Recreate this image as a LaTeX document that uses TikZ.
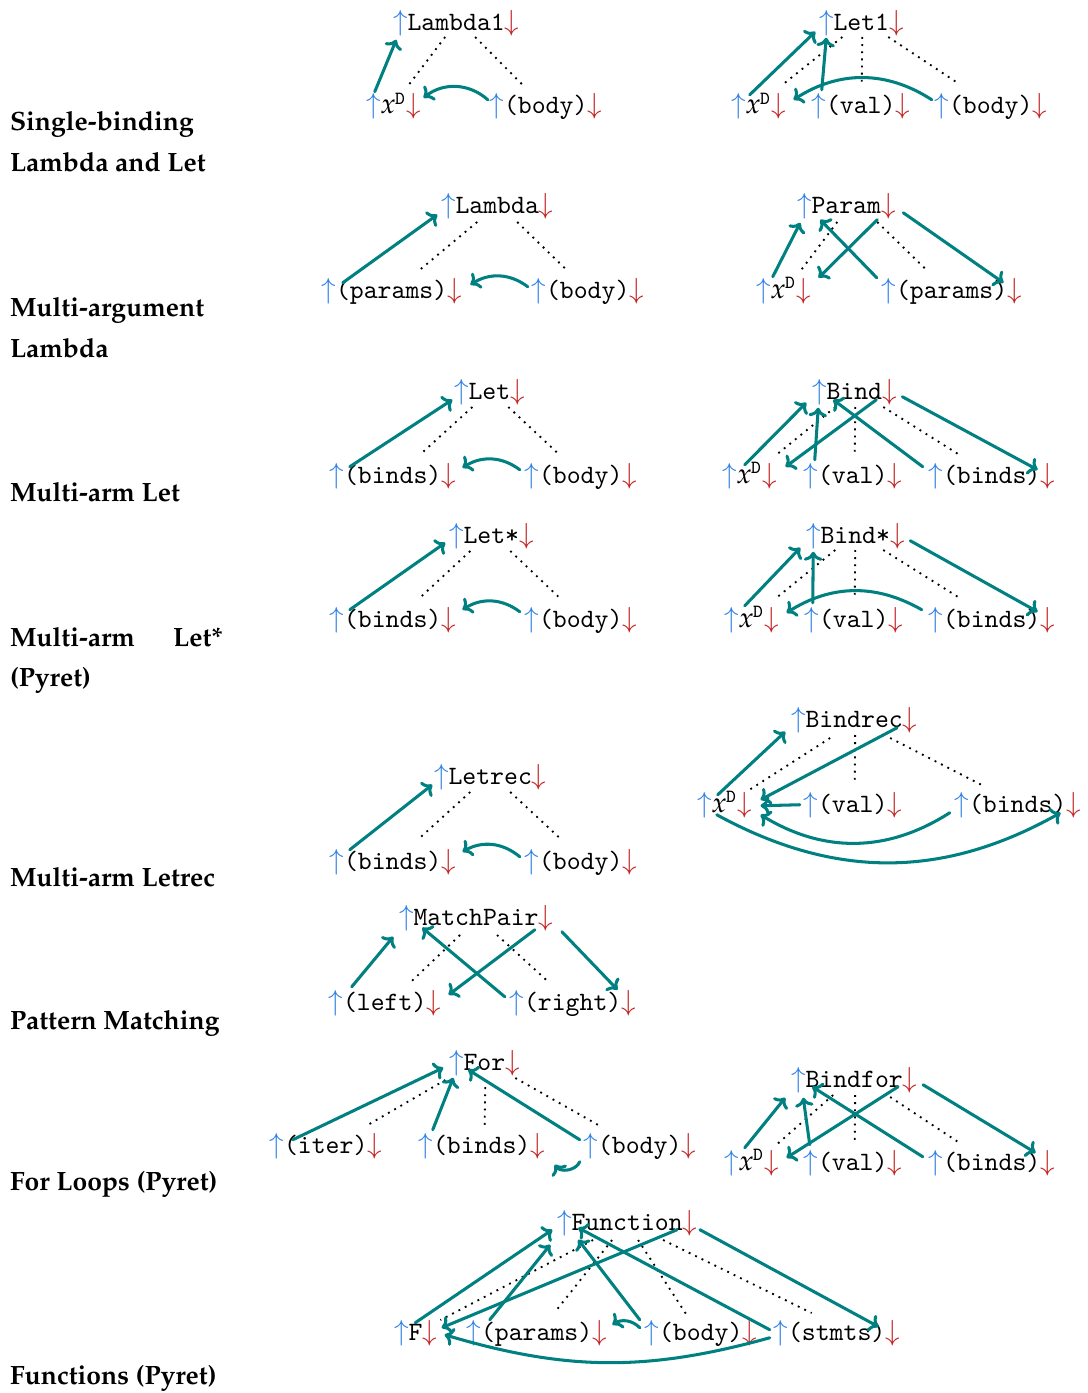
\documentclass[tikz,border=0pt]{standalone}
\usepackage[T1,TU]{fontenc}
\usetikzlibrary{calc,arrows.meta}
\definecolor{flowc}{RGB}{0,128,128}
\definecolor{upblue}{RGB}{50,130,230}
\definecolor{dnred}{RGB}{195,35,35}
\newcommand\palbf{\fontencoding{T1}\fontfamily{ppl}\fontseries{b}\fontshape{n}\fontsize{10}{15.5}\selectfont}
\newcommand\palit{\fontencoding{T1}\fontfamily{ppl}\fontseries{m}\fontshape{it}\fontsize{10.7}{12}\selectfont}
\newcommand\uarr{{\fontsize{10.95}{12}\selectfont\textcolor{upblue}{$\uparrow$}}}
\newcommand\darr{{\fontsize{10.95}{12}\selectfont\textcolor{dnred}{$\downarrow$}}}
\newcommand\xD{{\palit x}\textsuperscript{\ttfamily D}}
% one attribute group: up arrow, label, down arrow
\newcommand\grp[4]{%
  \node[txt,anchor=base west] (#1) at (#2,#3) {#4};
  \node[txt,anchor=base east] (#1-u) at (#1.base west) {\uarr};
  \node[txt,anchor=base west] (#1-d) at (#1.base east) {\darr};
}
\tikzset{
  txt/.style={inner sep=0pt,outer sep=0pt,font=\fontsize{10}{12}\ttfamily},
  lab/.style={inner sep=0pt,outer sep=0pt,anchor=base west,font=\palbf},
  flow/.style={draw=flowc,line width=1.15pt,line cap=round,line join=round,
    -{To[length=3.4pt,width=7pt]}},
  tree/.style={line width=0.7pt,dotted}
}
\begin{document}
\begin{tikzpicture}[x=0.3777pt,y=-0.3777pt]
\useasboundingbox (0,0) rectangle (1088,1393);

% section labels
\node[lab] (t1a) at (10,131) {Single-binding};
\node[lab] (t1b) at (10,172) {Lambda and Let};
\node[lab] (t2a) at (10,317) {Multi-argument};
\node[lab] (t2b) at (10,358) {Lambda};
\node[lab] (t3a) at (10,501) {Multi-arm Let};
\node[lab] (t4a) at (10,646) {\makebox[80.5pt][s]{Multi-arm Let*}};
\node[lab] (t4b) at (10,686) {(Pyret)};
\node[lab] (t5a) at (10,886) {Multi-arm Letrec};
\node[lab] (t6a) at (10,1029) {Pattern Matching};
\node[lab] (t7a) at (10,1190) {For Loops (Pyret)};
\node[lab] (t8a) at (10,1384) {Functions (Pyret)};

% ---------- Lambda1 ----------
\grp{lA}{407.5}{31}{Lambda1}
\grp{lAx}{381}{114}{\xD}
\grp{lAb}{504}{114}{(body)}
\draw[tree] ($(lA.base)+(-11,6)$) -- ($(lAx.base)+(15,-29)$);
\draw[tree] ($(lA.base)+(19,6)$) -- ($(lAb.base)+(-23,-29)$);
\draw[flow] ($(lAx-u.center)+(1,-15)$) -- ($(lA-u.center)+(-4,16)$);
\draw[flow] ($(lAb-u.center)+(-9,-7)$) to[bend right=40] ($(lAx-d.center)+(10,-9)$);

% ---------- Let1 ----------
\grp{lB}{833.5}{31}{Let1}
\grp{lBx}{746}{114}{\xD}
\grp{lBv}{826}{114}{(val)}
\grp{lBb}{949}{114}{(body)}
\draw[tree] ($(lB.base)+(-19,6)$) -- ($(lBx.base)+(23.5,-29)$);
\draw[tree] ($(lB.base)+(1,6)$) -- ($(lBv.base)+(1,-31)$);
\draw[tree] ($(lB.base)+(27,6)$) -- ($(lBb.base)+(-33,-31)$);
\draw[flow] ($(lBx-u.center)+(11,-12)$) -- ($(lB-u.center)+(-11,8)$);
\draw[flow] ($(lBv-u.center)+(3,-17)$) -- ($(lB-u.center)+(0,14)$);
\draw[flow] ($(lBb-u.center)+(-10,-7)$) to[bend right=33] ($(lBx-d.center)+(15,-7)$);

% ---------- Lambda ----------
\grp{mA}{455.5}{214}{Lambda}
\grp{mAp}{336}{298}{(params)}
\grp{mAb}{546}{298}{(body)}
\draw[tree] ($(mA.base)+(-20,8)$) -- ($(mAp.base)+(28,-28)$);
\draw[tree] ($(mA.base)+(20,8)$) -- ($(mAb.base)+(-21,-28)$);
\draw[flow] ($(mAp-u.center)+(14,-8)$) -- ($(mA-u.center)+(-11,8)$);
\draw[flow] ($(mAb-u.center)+(-11,-4)$) to[bend right=35] ($(mAp-d.center)+(16,-6)$);

% ---------- Param ----------
\grp{mB}{811.5}{214}{Param}
\grp{mBx}{771}{298}{\xD}
\grp{mBp}{896}{298}{(params)}
\draw[tree] ($(mB.base)+(-9,8)$) -- ($(mBx.base)+(17.5,-28)$);
\draw[tree] ($(mB.base)+(31,8)$) -- ($(mBp.base)+(-25,-28)$);
\draw[flow] ($(mBx-u.center)+(9,-14)$) -- ($(mB-u.center)+(-4,16)$);
\draw[flow] ($(mBp-u.center)+(-12,-13)$) -- ($(mB-u.center)+(16,13)$);
\draw[flow] ($(mB-d.center)+(-11,13)$) -- ($(mBx-d.center)+(15,-13)$);
\draw[flow] ($(mB-d.center)+(15,6)$) -- ($(mBp-d.center)+(-11,-8)$);

% ---------- Let ----------
\grp{nA}{468.5}{399}{Let}
\grp{nAb}{344}{483}{(binds)}
\grp{nAc}{539}{483}{(body)}
\draw[tree] ($(nA.base)+(-17,8)$) -- ($(nAb.base)+(27,-28)$);
\draw[tree] ($(nA.base)+(19,8)$) -- ($(nAc.base)+(-21,-28)$);
\draw[flow] ($(nAb-u.center)+(13,-9)$) -- ($(nA-u.center)+(-9,8)$);
\draw[flow] ($(nAc-u.center)+(-12,-6)$) to[bend right=35] ($(nAb-d.center)+(14,-8)$);

% ---------- Bind ----------
\grp{nB}{826.5}{399}{Bind}
\grp{nBx}{737}{483}{\xD}
\grp{nBv}{818}{483}{(val)}
\grp{nBb}{943}{483}{(binds)}
\draw[tree] ($(nB.base)+(-19,8)$) -- ($(nBx.base)+(26.5,-28)$);
\draw[tree] ($(nB.base)+(1,8)$) -- ($(nBv.base)+(2,-28)$);
\draw[tree] ($(nB.base)+(29,8)$) -- ($(nBb.base)+(-32,-28)$);
\draw[flow] ($(nBx-u.center)+(15,-11)$) -- ($(nB-u.center)+(-13,11)$);
\draw[flow] ($(nBv-u.center)+(4,-16)$) -- ($(nB-u.center)+(-1,16)$);
\draw[flow] ($(nB-d.center)+(-13,8)$) -- ($(nBx-d.center)+(16,-9)$);
\draw[flow] ($(nBb-u.center)+(-13,-9)$) -- ($(nB-u.center)+(14,8)$);
\draw[flow] ($(nB-d.center)+(13,5)$) -- ($(nBb-d.center)+(-10,-6)$);

% ---------- Let* ----------
\grp{oA}{463.5}{543}{Let*}
\grp{oAb}{344}{627}{(binds)}
\grp{oAc}{539}{627}{(body)}
\draw[tree] ($(oA.base)+(-21,8)$) -- ($(oAb.base)+(27,-29)$);
\draw[tree] ($(oA.base)+(19,8)$) -- ($(oAc.base)+(-21,-29)$);
\draw[flow] ($(oAb-u.center)+(13,-10)$) -- ($(oA-u.center)+(-11,7)$);
\draw[flow] ($(oAc-u.center)+(-12,-8)$) to[bend right=35] ($(oAb-d.center)+(14,-10)$);

% ---------- Bind* ----------
\grp{oB}{820.5}{543}{Bind*}
\grp{oBx}{739}{627}{\xD}
\grp{oBv}{819}{627}{(val)}
\grp{oBb}{943}{627}{(binds)}
\draw[tree] ($(oB.base)+(-20,7)$) -- ($(oBx.base)+(24.5,-29)$);
\draw[tree] ($(oB.base)+(0,7)$) -- ($(oBv.base)+(1,-29)$);
\draw[tree] ($(oB.base)+(28,7)$) -- ($(oBb.base)+(-32,-29)$);
\draw[flow] ($(oBx-u.center)+(13,-14)$) -- ($(oB-u.center)+(-13,12)$);
\draw[flow] ($(oBv-u.center)+(1,-17)$) -- ($(oB-u.center)+(0,16)$);
\draw[flow] ($(oBb-u.center)+(-14,-10)$) to[bend right=31] ($(oBx-d.center)+(15,-7)$);
\draw[flow] ($(oB-d.center)+(13,5)$) -- ($(oBb-d.center)+(-10,-8)$);

% ---------- Letrec ----------
\grp{pA}{448.5}{784}{Letrec}
\grp{pAb}{344}{869}{(binds)}
\grp{pAc}{539}{869}{(body)}
\draw[tree] ($(pA.base)+(-20,8)$) -- ($(pAb.base)+(27,-31)$);
\draw[tree] ($(pA.base)+(20,8)$) -- ($(pAc.base)+(-21,-31)$);
\draw[flow] ($(pAb-u.center)+(13,-12)$) -- ($(pA-u.center)+(-9,8)$);
\draw[flow] ($(pAc-u.center)+(-12,-5)$) to[bend right=35] ($(pAb-d.center)+(14,-10)$);

% ---------- Bindrec ----------
\grp{pB}{805.5}{727}{Bindrec}
\grp{pBx}{712}{812}{\xD}
\grp{pBv}{818}{812}{(val)}
\grp{pBb}{969}{812}{(binds)}
\draw[tree] ($(pB.base)+(-24,11)$) -- ($(pBx.base)+(24.5,-22)$);
\draw[tree] ($(pB.base)+(1,8)$) -- ($(pBv.base)+(2,-29)$);
\draw[tree] ($(pB.base)+(36,11)$) -- ($(pBb.base)+(-36,-27)$);
\draw[flow] ($(pBx-u.center)+(13,-10)$) -- ($(pB-u.center)+(-13,12)$);
\draw[flow] ($(pB-d.center)+(-13,8)$) -- ($(pBx-d.center)+(16,-5)$);
\draw[flow] ($(pBv-u.center)+(-11,0)$) -- ($(pBx-d.center)+(16,1)$);
\draw[flow] ($(pBb-u.center)+(-12,8)$) to[bend left=32] ($(pBx-d.center)+(16,10)$);
\draw[flow] ($(pBx-u.center)+(12,10)$) to[bend right=29] ($(pBb-d.center)+(-13,8)$);

% ---------- MatchPair ----------
\grp{qA}{413.5}{925}{MatchPair}
\grp{qAl}{343}{1010}{(left)}
\grp{qAr}{524}{1010}{(right)}
\draw[tree] ($(qA.base)+(-16,10)$) -- ($(qAl.base)+(25,-27)$);
\draw[tree] ($(qA.base)+(21,10)$) -- ($(qAr.base)+(-23,-27)$);
\draw[flow] ($(qAl-u.center)+(16,-16)$) -- ($(qA-u.center)+(-13,19)$);
\draw[flow] ($(qAr-u.center)+(-12,-6)$) -- ($(qA-u.center)+(16,10)$);
\draw[flow] ($(qA-d.center)+(-11,12)$) -- ($(qAl-d.center)+(15,-8)$);
\draw[flow] ($(qA-d.center)+(16,14)$) -- ($(qAr-d.center)+(-11,-13)$);

% ---------- For ----------
\grp{rA}{463.5}{1070}{For}
\grp{rAi}{284}{1153}{(iter)}
\grp{rAb}{433}{1153}{(binds)}
\grp{rAc}{598}{1153}{(body)}
\draw[tree] ($(rA.base)+(-39,10)$) -- ($(rAi.base)+(42,-28)$);
\draw[tree] ($(rA.base)+(1,10)$) -- ($(rAb.base)+(3,-28)$);
\draw[tree] ($(rA.base)+(31,8)$) -- ($(rAc.base)+(-38,-26)$);
\draw[flow] ($(rAi-u.center)+(16,-6)$) -- ($(rA-u.center)+(-13,5)$);
\draw[flow] ($(rAb-u.center)+(7,-16)$) -- ($(rA-u.center)+(-3,15)$);
\draw[flow] ($(rAc-u.center)+(-11,-6)$) -- ($(rA-u.center)+(12,7)$);
\coordinate (rAend) at ($(rAc-u.center)+(-36,19)$);
\draw[flow] ($(rAc-u.center)+(-11,16)$) to[bend left=60] (rAend);

% ---------- Bindfor ----------
\grp{rB}{805.5}{1087}{Bindfor}
\grp{rBx}{739}{1170}{\xD}
\grp{rBv}{818}{1170}{(val)}
\grp{rBb}{943}{1170}{(binds)}
\draw[tree] ($(rB.base)+(-21,8)$) -- ($(rBx.base)+(24.5,-25)$);
\draw[tree] ($(rB.base)+(1,8)$) -- ($(rBv.base)+(2,-27)$);
\draw[tree] ($(rB.base)+(36,10)$) -- ($(rBb.base)+(-32,-27)$);
\draw[flow] ($(rBx-u.center)+(13,-15)$) -- ($(rB-u.center)+(-13,18)$);
\draw[flow] ($(rBv-u.center)+(-1,-18)$) -- ($(rB-u.center)+(5,18)$);
\draw[flow] ($(rB-d.center)+(-12,7)$) -- ($(rBx-d.center)+(15,-5)$);
\draw[flow] ($(rBb-u.center)+(-13,-6)$) -- ($(rB-u.center)+(14,7)$);
\draw[flow] ($(rB-d.center)+(13,5)$) -- ($(rBb-d.center)+(-12,-10)$);

% ---------- Function ----------
\grp{sA}{571.5}{1230}{Function}
\grp{sAf}{408.5}{1340}{F}
\grp{sAp}{481}{1340}{(params)}
\grp{sAb}{659}{1340}{(body)}
\grp{sAs}{788}{1340}{(stmts)}
\draw[tree] ($(sA.base)+(-34,10)$) -- ($(sAf.base)+(25,-20)$);
\draw[tree] ($(sA.base)+(-15,10)$) -- ($(sAp.base)+(20,-30)$);
\draw[tree] ($(sA.base)+(11,10)$) -- ($(sAb.base)+(-14,-25)$);
\draw[tree] ($(sA.base)+(36,10)$) -- ($(sAs.base)+(-25,-27)$);
\draw[flow] ($(sAf-u.center)+(14,-10)$) -- ($(sA-u.center)+(-12,7)$);
\draw[flow] ($(sAp-u.center)+(16,-13)$) -- ($(sA-u.center)+(-14,22)$);
\draw[flow] ($(sAb-u.center)+(-12,-13)$) -- ($(sA-u.center)+(14,17)$);
\draw[flow] ($(sAs-u.center)+(-11,-3)$) -- ($(sA-u.center)+(14,5)$);
\draw[flow] ($(sA-d.center)+(-13,7)$) -- ($(sAf-d.center)+(12,-5)$);
\draw[flow] ($(sA-d.center)+(10,7)$) -- ($(sAs-d.center)+(-14,-6)$);
\draw[flow] ($(sAb-u.center)+(-12,-5)$) to[bend right=40] ($(sAp-d.center)+(13,-8)$);
\draw[flow] ($(sAs-u.center)+(-11,5)$) to[bend left=16] ($(sAf-d.center)+(15,2)$);
\end{tikzpicture}
\end{document}
